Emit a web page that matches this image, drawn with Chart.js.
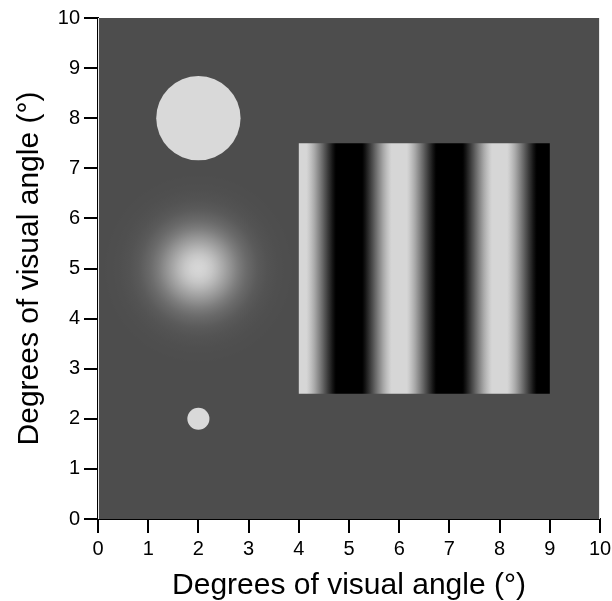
<!DOCTYPE html>
<html>
<head>
<meta charset="utf-8">
<script src="https://cdn.jsdelivr.net/npm/chart.js@4.4.1/dist/chart.umd.min.js"></script>
<style>
  html, body { margin: 0; padding: 0; background: #fff; }
  #wrap { width: 612px; height: 601px; }
</style>
</head>
<body>
<div id="wrap"><canvas id="c"></canvas></div>
<script>
// stimulus layout, everything in degrees of visual angle
const diskX = [2, 2];
const diskY = [8, 2];
const diskR = [0.84, 0.22];
const blobX = [2];
const blobY = [5];
const blobSigma = [0.55];
const gratingX = [4, 9];     // left, right edge
const gratingY = [2.5, 7.5]; // bottom, top edge
const gratingPeriod = 2;     // deg per cycle, bright bar at the left edge
const tickValues = [0, 1, 2, 3, 4, 5, 6, 7, 8, 9, 10];

const BG = 77, LIGHT = 214;

const stimuli = {
  id: 'stimuli',
  beforeDatasetsDraw(chart) {
    const ctx = chart.ctx, a = chart.chartArea;
    const xs = chart.scales.x, ys = chart.scales.y;
    const g = v => { v = Math.round(Math.max(0, Math.min(LIGHT, v))); return 'rgb(' + v + ',' + v + ',' + v + ')'; };
    ctx.save();
    ctx.beginPath();
    ctx.rect(a.left, a.top, a.right - a.left, a.bottom - a.top);
    ctx.clip();
    ctx.fillStyle = g(BG);
    ctx.fillRect(a.left, a.top, a.right - a.left, a.bottom - a.top);

    // gaussian blob
    blobX.forEach((bx, i) => {
      const cx = xs.getPixelForValue(bx), cy = ys.getPixelForValue(blobY[i]);
      const s = xs.getPixelForValue(blobSigma[i]) - xs.getPixelForValue(0);
      const rad = ctx.createRadialGradient(cx, cy, 0, cx, cy, s * 4);
      for (let k = 0; k <= 40; k++) {
        const r = k / 40 * 4;
        rad.addColorStop(k / 40, g(BG + (LIGHT - BG) * Math.exp(-r * r / 2)));
      }
      ctx.fillStyle = rad;
      ctx.beginPath(); ctx.arc(cx, cy, s * 4, 0, Math.PI * 2); ctx.fill();
    });

    // grating
    const gx0 = xs.getPixelForValue(gratingX[0]), gx1 = xs.getPixelForValue(gratingX[1]);
    const gy0 = ys.getPixelForValue(gratingY[1]), gy1 = ys.getPixelForValue(gratingY[0]);
    const lin = ctx.createLinearGradient(gx0, 0, gx1, 0);
    const span = gratingX[1] - gratingX[0];
    for (let k = 0; k <= 200; k++) {
      const d = k / 200 * span;
      const c = Math.cos(2 * Math.PI * d / gratingPeriod);
      lin.addColorStop(k / 200, g(LIGHT * (0.43 + 0.64 * c)));
    }
    ctx.fillStyle = lin;
    ctx.fillRect(gx0, gy0, gx1 - gx0, gy1 - gy0);

    // disks
    ctx.fillStyle = 'rgb(217,217,217)';
    diskX.forEach((dx, i) => {
      const cx = xs.getPixelForValue(dx), cy = ys.getPixelForValue(diskY[i]);
      const r = xs.getPixelForValue(diskR[i]) - xs.getPixelForValue(0);
      ctx.beginPath(); ctx.arc(cx, cy, r, 0, Math.PI * 2); ctx.fill();
    });

    // thin light edges at the sides of the field
    ctx.fillStyle = '#e8e8e8';
    ctx.fillRect(a.left, a.top, 1, a.bottom - a.top);
    ctx.fillRect(a.right - 1, a.top, 1, a.bottom - a.top);
    ctx.restore();
  }
};

const tickFont = { family: "'Liberation Sans', Arial, sans-serif", size: 20 };
const titleFont = { family: "'Liberation Sans', Arial, sans-serif", size: 30, lineHeight: 1 };

new Chart(document.getElementById('c'), {
  type: 'scatter',
  data: { datasets: [{ data: [], pointRadius: 0 }] },
  options: {
    responsive: true,
    maintainAspectRatio: false,
    animation: false,
    layout: { padding: { top: 18, right: 12, left: 15, bottom: 0 } },
    plugins: { legend: { display: false }, tooltip: { enabled: false } },
    scales: {
      x: {
        type: 'linear', min: 0, max: 10,
        afterBuildTicks: s => { s.ticks = tickValues.map(v => ({ value: v })); },
        afterFit: s => { s.height = 82; s.paddingLeft = 0; s.paddingRight = 0; },
        ticks: { color: '#000', font: tickFont, padding: 4, maxRotation: 0 },
        grid: { drawOnChartArea: false, drawTicks: true, tickLength: 14, color: '#000', lineWidth: 2 },
        border: { color: '#000', width: 2 },
        title: { display: true, text: 'Degrees of visual angle (°)', color: '#000', font: titleFont, padding: { top: 7, bottom: 0 } }
      },
      y: {
        type: 'linear', min: 0, max: 10,
        afterBuildTicks: s => { s.ticks = tickValues.map(v => ({ value: v })); },
        afterFit: s => { s.width = 83; s.paddingTop = 0; s.paddingBottom = 0; },
        ticks: { color: '#000', font: tickFont, padding: 4 },
        grid: { drawOnChartArea: false, drawTicks: true, tickLength: 14, color: '#000', lineWidth: 2 },
        border: { color: '#000', width: 2 },
        title: { display: true, text: 'Degrees of visual angle (°)', color: '#000', font: titleFont, padding: { top: 0, bottom: 9 } }
      }
    }
  },
  plugins: [stimuli]
});
</script>
</body>
</html>
